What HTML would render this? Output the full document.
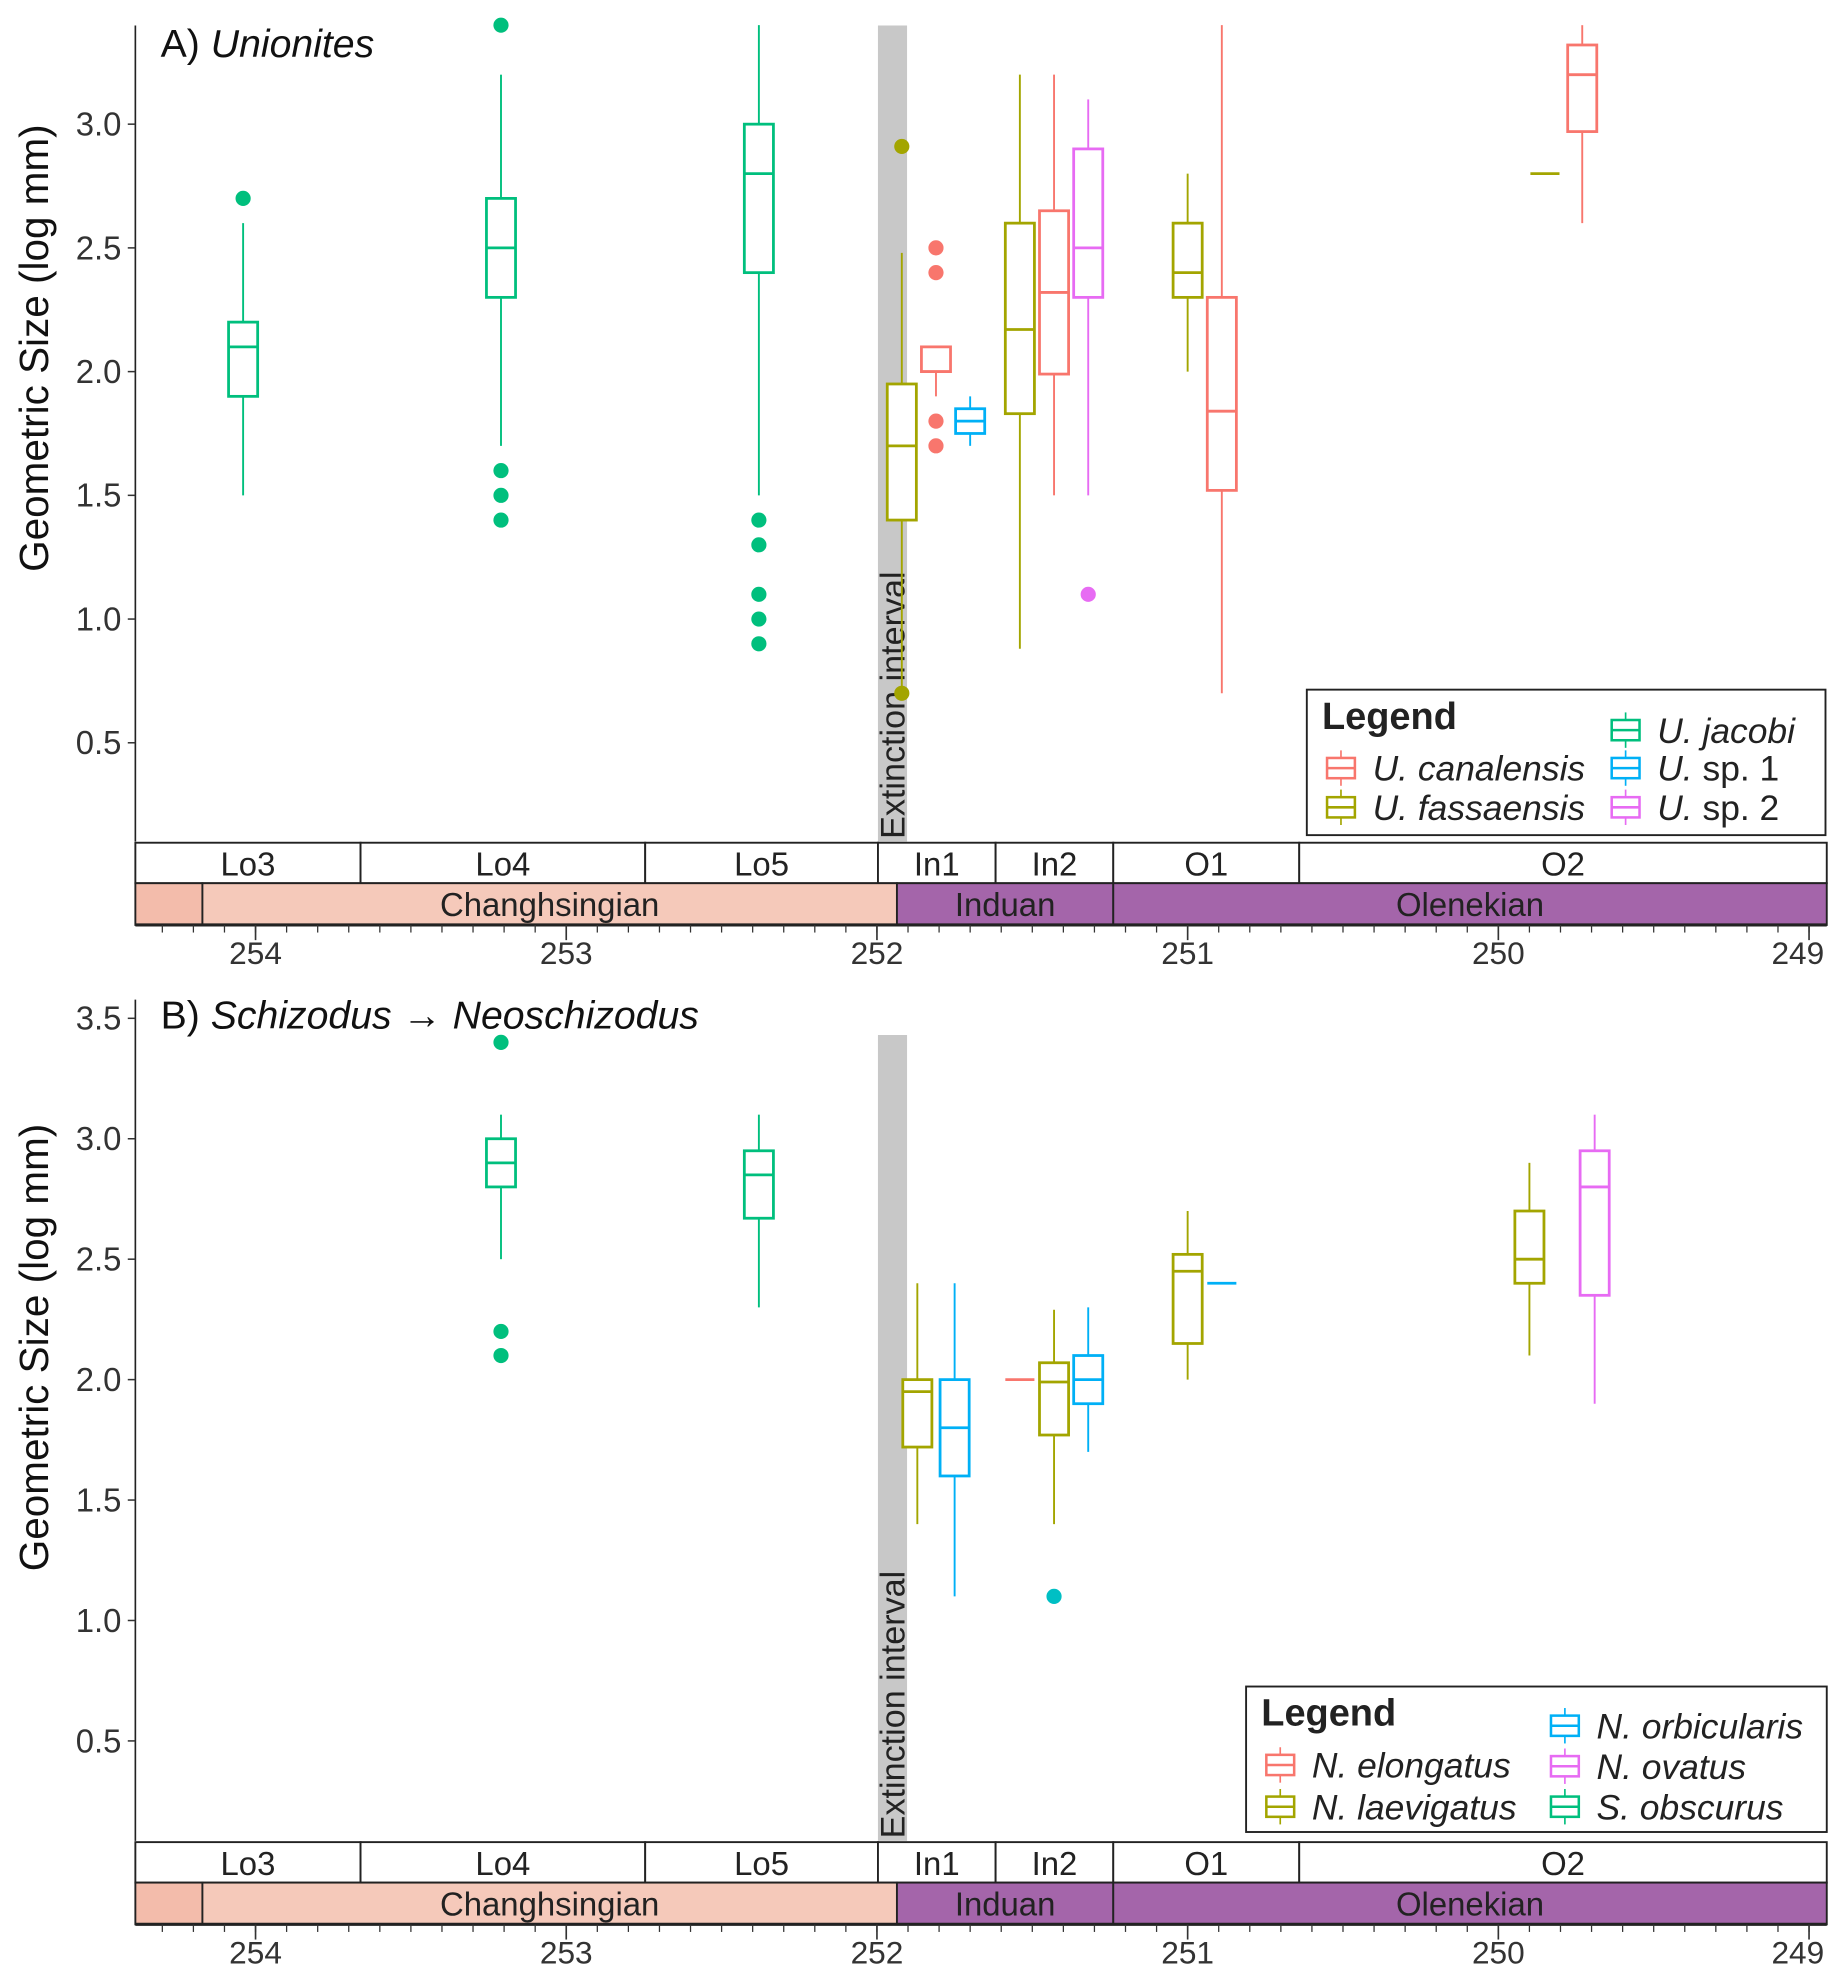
<!DOCTYPE html>
<html><head><meta charset="utf-8"><style>
html,body{margin:0;padding:0;background:#fff}
svg{display:block;font-family:"Liberation Sans",sans-serif}
</style></head><body>
<svg id="fig" width="1847" height="1984" viewBox="0 0 1460 1568" xmlns="http://www.w3.org/2000/svg"></svg>
<script>
// Panel A data (Unionites)
const aSpecies = ["jacobi","jacobi","jacobi","fassaensis","canalensis","sp1","fassaensis","canalensis","sp2","fassaensis","canalensis","fassaensis","canalensis"];
const aAge = [254.04,253.21,252.38,251.92,251.81,251.70,251.54,251.43,251.32,251.00,250.89,249.85,249.73];
const aLow = [1.5,1.7,1.5,0.7,1.9,1.7,0.88,1.5,1.5,2.0,0.7,2.8,2.6];
const aQ1 = [1.9,2.3,2.4,1.4,2.0,1.75,1.83,1.99,2.3,2.3,1.52,2.8,2.97];
const aMed = [2.1,2.5,2.8,1.7,2.0,1.8,2.17,2.32,2.5,2.4,1.84,2.8,3.2];
const aQ3 = [2.2,2.7,3.0,1.95,2.1,1.85,2.6,2.65,2.9,2.6,2.3,2.8,3.32];
const aHigh = [2.6,3.2,3.4,2.48,2.1,1.9,3.2,3.2,3.1,2.8,3.4,2.8,3.4];
const aOut = [[2.7],[3.4,1.6,1.5,1.4],[1.4,1.3,1.1,1.0,0.9],[2.91,0.7],[2.5,2.4,1.8,1.7],[],[],[],[1.1],[],[],[],[]];
// Panel B data (Schizodus -> Neoschizodus)
const bSpecies = ["obscurus","obscurus","laevigatus","orbicularis","elongatus","laevigatus","orbicularis","laevigatus","orbicularis","laevigatus","ovatus"];
const bAge = [253.21,252.38,251.87,251.75,251.54,251.43,251.32,251.00,250.89,249.90,249.69];
const bLow = [2.5,2.3,1.4,1.1,2.0,1.4,1.7,2.0,2.4,2.1,1.9];
const bQ1 = [2.8,2.67,1.72,1.6,2.0,1.77,1.9,2.15,2.4,2.4,2.35];
const bMed = [2.9,2.85,1.95,1.8,2.0,1.99,2.0,2.45,2.4,2.5,2.8];
const bQ3 = [3.0,2.95,2.0,2.0,2.0,2.07,2.1,2.52,2.4,2.7,2.95];
const bHigh = [3.1,3.1,2.4,2.4,2.0,2.29,2.3,2.7,2.4,2.9,3.1];
const bOut = [[3.4,2.2,2.1],[],[],[],[],[1.1],[],[],[],[],[]];
const yTicksA = [0.5,1.0,1.5,2.0,2.5,3.0];
const yTicksB = [0.5,1.0,1.5,2.0,2.5,3.0,3.5];
const xTicks = [254,253,252,251,250,249];

const COL = {canalensis:"#F8766D",fassaensis:"#A3A500",jacobi:"#00BF7D",sp1:"#00B0F6",sp2:"#E76BF3",
  elongatus:"#F8766D",laevigatus:"#A3A500",orbicularis:"#00B0F6",ovatus:"#E76BF3",obscurus:"#00BF7D"};
const NS="http://www.w3.org/2000/svg";
const svg=document.getElementById("fig");
function el(tag,attrs,parent,text){const e=document.createElementNS(NS,tag);for(const k in attrs)e.setAttribute(k,attrs[k]);if(text!==undefined)e.textContent=text;(parent||svg).appendChild(e);return e;}
const xs=t=>202+(254-t)*245.6;

function panel(p){
  const g=el("g",{});
  
  
  const ys=v=>p.y3+(3-v)*p.unit;
  const ex=el("rect",{x:694,y:p.top,width:23,height:p.bottom-p.top,fill:"#c8c8c8"},g);
  
  
  const et=el("text",{x:0,y:0,transform:`translate(715,${p.bottom-2}) rotate(-90)`,"font-size":27,fill:"#222"},g,"Extinction interval");
  
  
  el("line",{x1:107,y1:p.axTop,x2:107,y2:p.bottom,stroke:"#222","stroke-width":1.3},g);
  p.yt.forEach(v=>{
    el("line",{x1:101,y1:ys(v),x2:107,y2:ys(v),stroke:"#333","stroke-width":1.2},g);
    const t=el("text",{x:96,y:ys(v)+9,"text-anchor":"end","font-size":26,fill:"#333"},g,v.toFixed(1));
    
    
  });
  const yt=el("text",{transform:`translate(38,${p.ytc}) rotate(-90)`,"text-anchor":"middle","font-size":32,fill:"#111"},g,"Geometric Size (log mm)");
  
  
  const ti=el("text",{x:127,y:p.titleY,"font-size":31,fill:"#111"},g);
  
  
  p.title(ti);
  for(let i=0;i<p.sp.length;i++){
    const c=COL[p.sp[i]],x=xs(p.age[i]),w=23;
    const bg=el("g",{},g);
    
    
    el("line",{x1:x,y1:ys(p.high[i]),x2:x,y2:ys(p.q3[i]),stroke:c,"stroke-width":1.5},bg);
    el("line",{x1:x,y1:ys(p.q1[i]),x2:x,y2:ys(p.low[i]),stroke:c,"stroke-width":1.5},bg);
    const h=Math.max(ys(p.q1[i])-ys(p.q3[i]),0);
    el("rect",{x:x-w/2,y:ys(p.q3[i]),width:w,height:h,fill:"#fff",stroke:c,"stroke-width":2.2},bg);
    el("line",{x1:x-w/2,y1:ys(p.med[i]),x2:x+w/2,y2:ys(p.med[i]),stroke:c,"stroke-width":2.2},bg);
    p.out[i].forEach(v=>{
      const oc=(p.name==="panel-b"&&v===1.1)?"#00BFC4":c;
      const o=el("circle",{cx:x,cy:ys(v),r:6,fill:oc},bg);
      
      
    });
  }
  const s1=p.bottom+1, s2=s1+32, s3=s2+33;
  const stages=[["Lo3",107,285],["Lo4",285,510],["Lo5",510,694],["In1",694,787],["In2",787,880],["O1",880,1027],["O2",1027,1444]];
  stages.forEach(s=>{
    el("rect",{x:s[1],y:s1,width:s[2]-s[1],height:32,fill:"#fff",stroke:"#222","stroke-width":1.5},g);
    const t=el("text",{x:(s[1]+s[2])/2,y:s1+26,"text-anchor":"middle","font-size":26,fill:"#222"},g,s[0]);
    
    
  });
  const eps=[["",107,160,"#f3bcab"],["Changhsingian",160,709,"#f5c9ba"],["Induan",709,880,"#a465aa"],["Olenekian",880,1444,"#a465aa"]];
  eps.forEach(s=>{
    el("rect",{x:s[1],y:s2,width:s[2]-s[1],height:33,fill:s[3],stroke:"#222","stroke-width":1.5},g);
    if(s[0]){const t=el("text",{x:(s[1]+s[2])/2,y:s2+26,"text-anchor":"middle","font-size":26,fill:"#222"},g,s[0]);
    
    }
  });
  el("line",{x1:107,y1:s3,x2:1444,y2:s3,stroke:"#222","stroke-width":2.5},g);
  for(let k=0;k<=54;k++){const t=254.3-k*0.1;const x=xs(t);if(x<108||x>1444)continue;
    el("line",{x1:x,y1:s3,x2:x,y2:s3+6,stroke:"#333","stroke-width":1},g);}
  xTicks.forEach(t=>{
    el("line",{x1:xs(t),y1:s3,x2:xs(t),y2:s3+12,stroke:"#333","stroke-width":1.3},g);
    const tl=el("text",{x:xs(t),y:s3+31,"text-anchor":t===249?"end":"middle","font-size":25,fill:"#333",dx:t===249?12:0},g,String(t));
    
    
  });
  const L=p.leg;
  const lg=el("g",{},g);
  
  
  el("rect",{x:L.x,y:L.y,width:L.w,height:115,fill:"#fff",stroke:"#222","stroke-width":1.5},lg);
  el("text",{x:L.x+12,y:L.y+31,"font-size":30,"font-weight":"bold",fill:"#222"},lg,"Legend");
  L.items.forEach(it=>{
    const c=COL[it[0]],kx=it[1],ky=it[2];
    const eg=el("g",{},lg);
    
    
    el("line",{x1:kx,y1:ky-14,x2:kx,y2:ky+14,stroke:c,"stroke-width":1.3},eg);
    el("rect",{x:kx-11,y:ky-8,width:22,height:16,fill:"#fff",stroke:c,"stroke-width":2},eg);
    el("line",{x1:kx-11,y1:ky,x2:kx+11,y2:ky,stroke:c,"stroke-width":2},eg);
    const t=el("text",{x:kx+25,y:ky+10,"font-size":28,fill:"#222"},eg);
    el("tspan",{"font-style":"italic"},t,it[3]);
    if(it[4])el("tspan",{},t,it[4]);
  });
}

panel({name:"panel-a",top:20,axTop:20,bottom:665,y3:98,unit:195.6,yt:yTicksA,titleY:45,ytc:275,
  sp:aSpecies,age:aAge,low:aLow,q1:aQ1,med:aMed,q3:aQ3,high:aHigh,out:aOut,
  title:t=>{el("tspan",{},t,"A) ");el("tspan",{"font-style":"italic"},t,"Unionites");},
  leg:{x:1033,y:545,w:410,items:[["canalensis",1060,607,"U. canalensis"],["fassaensis",1060,638,"U. fassaensis"],["jacobi",1285,577,"U. jacobi"],["sp1",1285,607,"U. ","sp. 1"],["sp2",1285,638,"U. ","sp. 2"]]}});
panel({name:"panel-b",top:818,axTop:790,bottom:1455,y3:900,unit:190.4,yt:yTicksB,titleY:813,ytc:1065,
  sp:bSpecies,age:bAge,low:bLow,q1:bQ1,med:bMed,q3:bQ3,high:bHigh,out:bOut,
  title:t=>{el("tspan",{},t,"B) ");el("tspan",{"font-style":"italic"},t,"Schizodus");el("tspan",{},t," → ");el("tspan",{"font-style":"italic"},t,"Neoschizodus");},
  leg:{x:985,y:1333,w:459,items:[["elongatus",1012,1395,"N. elongatus"],["laevigatus",1012,1428,"N. laevigatus"],["orbicularis",1237,1364,"N. orbicularis"],["ovatus",1237,1396,"N. ovatus"],["obscurus",1237,1428,"S. obscurus"]]}});
</script>
</body></html>
